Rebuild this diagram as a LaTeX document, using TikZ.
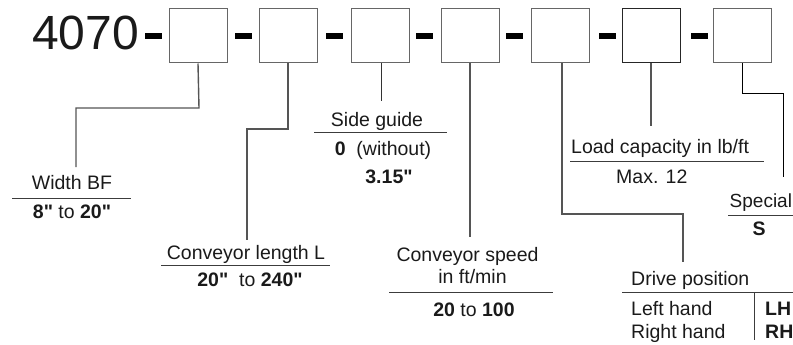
\documentclass[tikz,border=0pt]{standalone}
\usepackage{fontspec}
\setmainfont{Liberation Sans}
\definecolor{conn}{HTML}{555555}
\definecolor{boxc}{HTML}{666666}
\definecolor{txt}{HTML}{1A1A1A}
\newcommand{\qd}{\textquotedbl}
\begin{document}
\begin{tikzpicture}[x=1pt,y=-1pt,
  codebox/.style={draw=boxc,line width=1pt,minimum width=58pt,minimum height=54pt,inner sep=0pt,fill=white},
  dashbar/.style={fill=black,draw=none,minimum width=17pt,minimum height=6pt,inner sep=0pt},
  lbl/.style={font=\fontsize{19.5}{23}\selectfont,text=txt,inner sep=0pt,anchor=base},
  lblw/.style={lbl,anchor=base west},
  conline/.style={draw=conn,line width=1.4pt},
  rule/.style={draw=txt!85,line width=1pt}]
\useasboundingbox (0,0) rectangle (793,345);
% header
\node[lblw,font=\fontsize{48}{50}\selectfont] (code) at (32,50) {4070};
\node[dashbar] (d0) at (153.5,36) {};
\node[codebox] (b1) at (198,36) {};
\node[dashbar] (d1) at (243,36) {};
\node[codebox] (b2) at (288,36) {};
\node[dashbar] (d2) at (334,36) {};
\node[codebox] (b3) at (380,36) {};
\node[dashbar] (d3) at (424,36) {};
\node[codebox] (b4) at (470,36) {};
\node[dashbar] (d4) at (514,36) {};
\node[codebox] (b5) at (560,36) {};
\node[dashbar] (d5) at (607,36) {};
\node[codebox,draw=black!85,line width=1.6pt] (b6) at (651.5,35.5) {};
\node[dashbar] (d6) at (699,36) {};
\node[codebox] (b7) at (742,36) {};
% Width BF
\node[lbl] (wbf) at (72,189) {Width BF};
\draw[rule] (12,198) -- (131,198);
\node[lbl] (wbfv) at (72,218) {\textbf{8\qd} to \textbf{20\qd}};
\coordinate (c1a) at (199,108);
\coordinate (c1b) at (76,108);
\coordinate (c1c) at (76,167);
\draw[conline] (b1.south) -- (c1a) -- (c1b) -- (c1c);
% Conveyor length
\node[lbl] (cl) at (246,259) {Conveyor length L};
\draw[rule] (161,265) -- (330,265);
\node[lbl] (clv) at (250,286) {\textbf{20\qd}\ \ to \textbf{240\qd}};
\coordinate (c2a) at (288,129);
\coordinate (c2b) at (247,129);
\coordinate (c2c) at (247,240);
\draw[conline] (b2.south) -- (c2a) -- (c2b) -- (c2c);
% Side guide
\node[lbl] (sg) at (377,126) {Side guide};
\draw[rule] (314,132) -- (447,132);
\node[lbl] (sg0) at (383,155) {\textbf{0}\ \ (without)};
\node[lbl] (sg1) at (389,183) {\textbf{3.15\qd}};
\coordinate (c3a) at (381,101);
\draw[conline,draw=black!80,line width=1pt] (b3.south -| c3a) -- (c3a);
% Conveyor speed
\node[lbl] (cs) at (467.5,261) {Conveyor speed};
\node[lbl] (cs2) at (472.5,283) {in ft/min};
\draw[rule] (389,292) -- (553,292);
\node[lbl] (csv) at (474,316) {\textbf{20} to \textbf{100}};
\coordinate (c4a) at (470,237);
\draw[conline] (b4.south) -- (c4a);
% Drive position
\coordinate (c5a) at (562,214);
\coordinate (c5b) at (683,214);
\coordinate (c5c) at (683,262);
\draw[conline] (b5.south -| c5a) -- (c5a) -- (c5b) -- (c5c);
\node[lblw] (dp) at (631,285) {Drive position};
\draw[rule] (622,292) -- (793,292);
\draw[rule] (754,292) -- (754,340);
\node[lblw] (lh) at (631,315) {Left hand};
\node[lblw] (rh) at (631,338) {Right hand};
\node[lblw] (lhc) at (765,315) {\textbf{LH}};
\node[lblw] (rhc) at (765,338) {\textbf{RH}};
% Load capacity
\coordinate (c6a) at (651,126);
\draw[conline] (b6.south -| c6a) -- (c6a);
\node[lblw] (lc) at (571,153) {Load capacity in lb/ft};
\draw[rule] (570,161) -- (764,161);
\node[lblw] (lcv) at (616,183) {Max. 12};
% Special
\coordinate (c7a) at (742,94);
\coordinate (c7b) at (783,94);
\coordinate (c7c) at (783,177);
\draw[draw=black,line width=1pt] (b7.south) -- (c7a) -- (c7b) -- (c7c);
\node[lblw,font=\fontsize{19}{23}\selectfont] (sp) at (729.5,207) {Special};
\draw[rule] (728,215) -- (793,215);
\node[lbl] (spv) at (759,235) {\textbf{S}};
\end{tikzpicture}
\end{document}
